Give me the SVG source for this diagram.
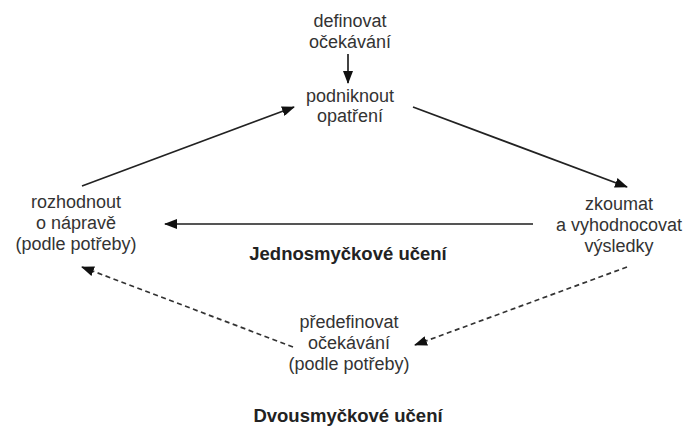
<svg xmlns="http://www.w3.org/2000/svg" width="689" height="432" viewBox="0 0 689 432">
  <style>
    .lbl { font-family: "Liberation Sans", Arial, sans-serif; font-size: 18px; fill: #333; text-anchor: middle; }
    .ttl { font-family: "Liberation Sans", Arial, sans-serif; font-size: 18.5px; font-weight: bold; fill: #222; text-anchor: middle; }
    .edge { stroke: #222; stroke-width: 1.7; fill: none; }
    .flat { stroke: #555; stroke-width: 2.2; fill: none; }
    .dash { stroke: #333; stroke-width: 1.7; fill: none; stroke-dasharray: 5 3.5; }
  </style>
  <defs>
    <marker id="head" viewBox="0 0 13 10" refX="12" refY="5" markerWidth="13" markerHeight="10" markerUnits="userSpaceOnUse" orient="auto">
      <path d="M0,0 L13,5 L0,10 Z" fill="#111"/>
    </marker>
  </defs>

  <rect width="689" height="432" fill="#fff"/>

  <g id="connectors">
    <line class="edge" x1="348" y1="54" x2="348" y2="83" marker-end="url(#head)"/>
    <line class="edge" x1="82" y1="186" x2="294" y2="107" marker-end="url(#head)"/>
    <line class="edge" x1="413" y1="107" x2="627" y2="187" marker-end="url(#head)"/>
    <line class="flat" x1="533" y1="224" x2="165" y2="224" marker-end="url(#head)"/>
    <line class="dash" x1="293" y1="347" x2="82" y2="267" marker-end="url(#head)"/>
    <line class="dash" x1="627" y1="267" x2="415" y2="345" marker-end="url(#head)"/>
  </g>

  <g id="node-define">
    <text class="lbl" x="350" y="27">definovat</text>
    <text class="lbl" x="350" y="48">očekávání</text>
  </g>

  <g id="node-act">
    <text class="lbl" x="350" y="102">podniknout</text>
    <text class="lbl" x="350" y="122">opatření</text>
  </g>

  <g id="node-examine">
    <text class="lbl" x="619" y="210">zkoumat</text>
    <text class="lbl" x="619" y="231">a vyhodnocovat</text>
    <text class="lbl" x="619" y="252">výsledky</text>
  </g>

  <g id="node-decide">
    <text class="lbl" x="76" y="208">rozhodnout</text>
    <text class="lbl" x="76" y="229">o nápravě</text>
    <text class="lbl" x="76" y="250">(podle potřeby)</text>
  </g>

  <g id="node-redefine">
    <text class="lbl" x="349" y="328">předefinovat</text>
    <text class="lbl" x="349" y="349">očekávání</text>
    <text class="lbl" x="349" y="370">(podle potřeby)</text>
  </g>

  <g id="label-single">
    <text class="ttl" x="348" y="260">Jednosmyčkové učení</text>
  </g>

  <g id="label-double">
    <text class="ttl" x="348" y="422">Dvousmyčkové učení</text>
  </g>
</svg>
